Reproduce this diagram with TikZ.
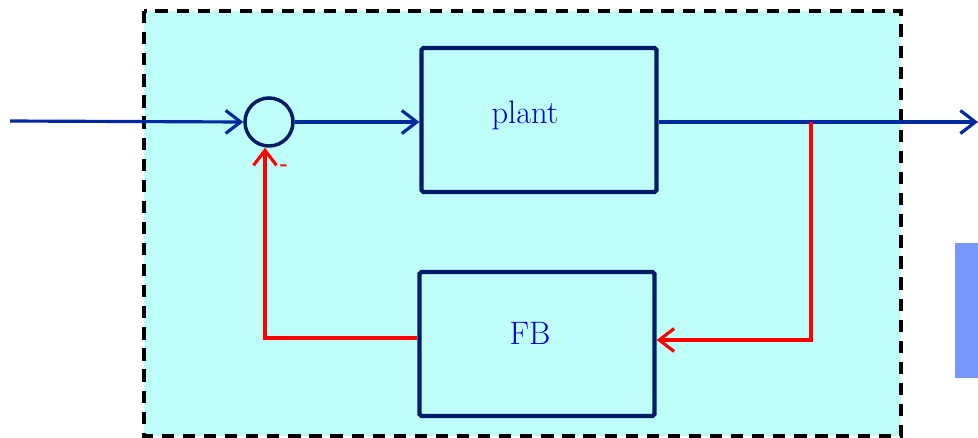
\documentclass[tikz,border=0pt]{standalone}
\usepackage{tikz}
\usetikzlibrary{arrows.meta, positioning, calc}
\definecolor{panel}{RGB}{191,254,248}
\definecolor{navy}{RGB}{0,28,102}
\definecolor{wire}{RGB}{0,40,160}
\definecolor{lbl}{RGB}{0,0,205}
\definecolor{side}{RGB}{120,152,255}
\tikzset{every node/.append style={align=center, inner sep=0pt}}

\begin{document}
\begin{tikzpicture}[x=0.02cm, y=-0.02cm,
    blk/.style={rectangle, draw=navy, line width=2.4pt, rounded corners=1pt, minimum width=4.7cm, minimum height=2.88cm},
    txt/.style={text=lbl, font=\fontsize{18.5}{22}\selectfont},
    sumc/.style={circle, draw=navy, line width=2pt, minimum size=0.96cm},
    a/.style={-{Straight Barb[length=3mm, width=4.6mm, line width=1.8pt]}, line width=1.8pt, wire},
    fbk/.style={-{Straight Barb[length=3mm, width=4.6mm, line width=1.8pt]}, line width=1.8pt, red}]
\useasboundingbox (0,0) rectangle (978,437);
% frame
\draw[black, fill=panel, line width=2.2pt, dash pattern=on 7pt off 5pt] (144,11) rectangle (901,436);
\fill[side] (955,243) rectangle (978,378);
% blocks
\node[sumc] (sum) at (269,122) {};
\node[blk] (plant) at (539,120) {};
\node[txt] (plantlbl) at (525,115) {plant};
\node[blk] (fb) at (537,344) {};
\node[txt] (fblbl) at (530,333) {FB};
\coordinate (in) at (10,121);
\coordinate (out) at (978,122);
\coordinate (tap) at (811,122);
\coordinate (corner) at (265,338);
\coordinate (fbin) at ([yshift=0.08cm]fb.east);
% wires
\draw[a] (in) -- (sum.west);
\draw[a] (sum.east) -- (plant.west |- sum.east);
\draw[a] (plant.east |- out) -- (out);
\draw[fbk] (tap) -- (tap |- fbin) -- (fbin);
\draw[fbk] (fb.west |- corner) -- (corner) -- (corner |- sum.south);
\node[red, font=\large\bfseries] (minus) at (284,168) {-};
\end{tikzpicture}
\end{document}
